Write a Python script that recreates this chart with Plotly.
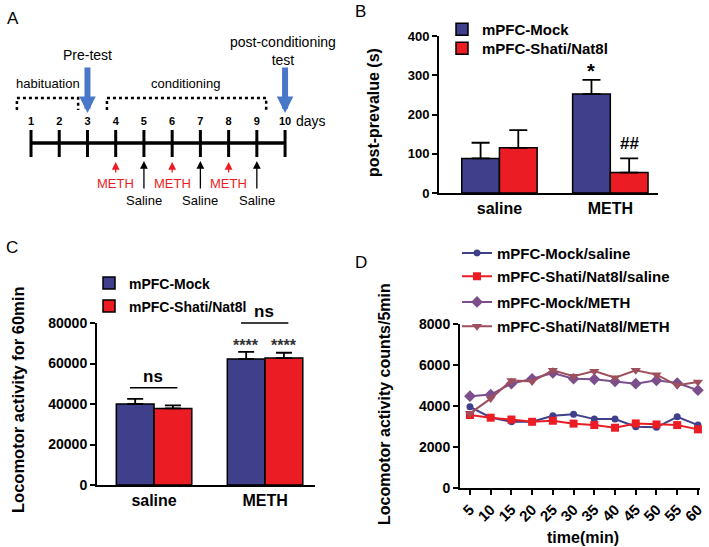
import plotly.graph_objects as go

W, H = 709, 547
FONT = "Liberation Sans, Arial, sans-serif"
BLUE = "#3f3f8c"
RED = "#ec1c24"
PURPLE = "#7c4f8c"
MAUVE = "#9e4f5e"
ARROW_BLUE = "#4a78c8"

# ---- data ----
groups = ["saline", "METH"]
b_mock = [88, 252]
b_mock_err = [40, 36]
b_shati = [115, 52]
b_shati_err = [45, 36]

c_mock = [40000, 62200]
c_mock_err = [2500, 3500]
c_shati = [37800, 62700]
c_shati_err = [1500, 2600]

time_min = [5, 10, 15, 20, 25, 30, 35, 40, 45, 50, 55, 60]
mock_saline = [3960, 3440, 3230, 3230, 3520, 3600, 3360, 3360, 2990, 2960, 3470, 3070]
shati_saline = [3560, 3430, 3340, 3230, 3280, 3140, 3070, 2940, 3150, 3100, 3070, 2860]
mock_meth = [4480, 4560, 5090, 5330, 5610, 5330, 5300, 5200, 5090, 5250, 5120, 4770]
shati_meth = [3640, 4360, 5250, 5200, 5740, 5450, 5700, 5380, 5740, 5530, 5010, 5170]

days = list(range(1, 11))
meth_days = [4, 6, 8]
saline_days = [5, 7, 9]

BARGAP = 0.32
OFF = (1 - BARGAP) / 4  # centre offset of each bar inside its group


def px_x(p):
    return p / W


def px_y(p):
    return 1 - p / H


fig = go.Figure()

# ---------------- panel B ----------------
for name, vals, err, col, leg in [("mPFC-Mock", b_mock, b_mock_err, BLUE, "legend"),
                                  ("mPFC-Shati/Nat8l", b_shati, b_shati_err, RED, "legend2")]:
    fig.add_trace(go.Bar(
        x=groups, y=vals, name=name, xaxis="x", yaxis="y",
        marker=dict(color=col, line=dict(color="black", width=1.5)),
        error_y=dict(type="data", symmetric=False, array=err, arrayminus=[0, 0],
                     color="black", thickness=1.8, width=9),
        legend=leg, showlegend=True))

# ---------------- panel C ----------------
for name, vals, err, col, leg in [("mPFC-Mock", c_mock, c_mock_err, BLUE, "legend3"),
                                  ("mPFC-Shati/Nat8l", c_shati, c_shati_err, RED, "legend4")]:
    fig.add_trace(go.Bar(
        x=groups, y=vals, name=name, xaxis="x2", yaxis="y2",
        marker=dict(color=col, line=dict(color="black", width=1.5)),
        error_y=dict(type="data", symmetric=False, array=err, arrayminus=[0, 0],
                     color="black", thickness=1.8, width=8),
        legend=leg, showlegend=True))

# ---------------- panel D ----------------
d_series = [
    ("mPFC-Mock/saline", mock_saline, BLUE, "circle", 7, "legend5"),
    ("mPFC-Shati/Nat8l/saline", shati_saline, RED, "square", 8, "legend6"),
    ("mPFC-Mock/METH", mock_meth, PURPLE, "diamond", 9, "legend7"),
    ("mPFC-Shati/Nat8l/METH", shati_meth, MAUVE, "triangle-down", 9, "legend8"),
]
for name, vals, col, sym, sz, leg in d_series:
    fig.add_trace(go.Scatter(
        x=time_min, y=vals, name=name, mode="lines+markers", xaxis="x4", yaxis="y4",
        line=dict(color=col, width=2), marker=dict(color=col, symbol=sym, size=sz),
        cliponaxis=False, legend=leg, showlegend=True))

# ---------------- panel A (schematic timeline) ----------------
fig.add_trace(go.Scatter(
    x=[days[0], days[-1]], y=[143, 143], mode="lines", xaxis="x3", yaxis="y3",
    line=dict(color="black", width=3.5), showlegend=False, hoverinfo="skip"))
tx, ty = [], []
for d in days:
    tx += [d, d, None]
    ty += [130, 157, None]
fig.add_trace(go.Scatter(
    x=tx, y=ty, mode="lines", xaxis="x3", yaxis="y3",
    line=dict(color="black", width=3), showlegend=False, hoverinfo="skip"))
fig.add_trace(go.Scatter(
    x=days, y=[122] * len(days), mode="text", text=[str(d) for d in days],
    textfont=dict(family=FONT, size=11, color="black", weight="bold"),
    xaxis="x3", yaxis="y3", showlegend=False, hoverinfo="skip"))
# dotted brackets
for x0, x1 in [(0.5, 2.67), (3.69, 9.33)]:
    fig.add_trace(go.Scatter(
        x=[x0, x0, x1, x1], y=[110, 98, 98, 110], mode="lines", xaxis="x3", yaxis="y3",
        line=dict(color="black", width=2.5, dash="dot"), showlegend=False, hoverinfo="skip"))

ann = []


def a_text(x, y, text, size=13, color="black", **kw):
    ann.append(dict(x=x, y=y, xref="x3", yref="y3", text=text, showarrow=False,
                    font=dict(family=FONT, size=size, color=color), **kw))


a_text(1.6, 83, "habituation")
a_text(6.46, 83, "conditioning")
a_text(3, 55, "Pre-test", size=14)
a_text(9.93, 50.5, "post-conditioning<br>test", size=14)
a_text(10.3, 121, "days", size=14, xanchor="left")
for d in meth_days:
    a_text(d, 183, "METH", color=RED)
    ann.append(dict(x=d, y=162, ax=d, ay=174, xref="x3", yref="y3", axref="x3", ayref="y3",
                    text="", showarrow=True, arrowhead=2, arrowsize=1.2, arrowwidth=1.3,
                    arrowcolor=RED))
for d in saline_days:
    a_text(d, 200, "Saline")
    ann.append(dict(x=d, y=161, ax=d, ay=190, xref="x3", yref="y3", axref="x3", ayref="y3",
                    text="", showarrow=True, arrowhead=2, arrowsize=1.2, arrowwidth=1.3,
                    arrowcolor="black"))
for d in [3, 10]:
    ann.append(dict(x=d, y=113, ax=d, ay=66, xref="x3", yref="y3", axref="x3", ayref="y3",
                    text="", showarrow=True, arrowhead=2, arrowsize=0.55, arrowwidth=6,
                    arrowcolor=ARROW_BLUE))

# ---------------- significance marks ----------------
ann.append(dict(x=1 - OFF, y=311, xref="x", yref="y", text="*", showarrow=False,
                yanchor="middle", font=dict(family=FONT, size=20, color="black", weight="bold")))
ann.append(dict(x=1 + OFF, y=98, xref="x", yref="y", text="##", showarrow=False,
                yanchor="bottom", font=dict(family=FONT, size=17, color="black", weight="bold")))
for g, yline in [(0, 48000), (1, 80000)]:
    ann.append(dict(x=g + 0.21, y=yline, ax=g - 0.23, ay=yline, xref="x2", yref="y2",
                    axref="x2", ayref="y2", text="", showarrow=True, arrowhead=0,
                    arrowwidth=1.6, arrowcolor="black"))
    ann.append(dict(x=g - 0.01, y=yline, xref="x2", yref="y2", text="ns", showarrow=False,
                    yanchor="bottom", font=dict(family=FONT, size=17, color="black", weight="bold")))
for dx in [-OFF, OFF]:
    ann.append(dict(x=1 + dx, y=69000, xref="x2", yref="y2", text="****", showarrow=False,
                    font=dict(family=FONT, size=16, color="#333333", weight="bold")))


def p_text(x, y, text, size, angle=0, bold=True):
    ann.append(dict(x=px_x(x), y=px_y(y), xref="paper", yref="paper", text=text,
                    textangle=angle, showarrow=False, xanchor="center", yanchor="middle",
                    font=dict(family=FONT, size=size, color="black",
                              weight="bold" if bold else "normal")))


p_text(373, 112, "post-prevalue (s)", 16, -90)
p_text(18, 400, "Locomotor activity for 60min", 16.5, -90)
p_text(384, 404, "Locomotor activity counts/5min", 16, -90)
p_text(583, 537, "time(min)", 16)
for letter, lx, ly in [("A", 13, 18), ("B", 360, 12), ("C", 12, 247), ("D", 361, 263)]:
    p_text(lx, ly, letter, 17, bold=False)

axis_common = dict(showline=True, linecolor="black", linewidth=2, showgrid=False,
                   zeroline=False, ticks="outside", ticklen=5, tickwidth=2, tickcolor="black")


def leg(text_left, centre_y, size):
    # one legend per entry so each row sits where the reference puts it
    return dict(x=px_x(text_left - 41), y=px_y(centre_y - 16), xanchor="left", yanchor="top",
                bgcolor="rgba(0,0,0,0)",
                font=dict(family=FONT, size=size, color="black", weight="bold"))


fig.update_layout(
    width=W, height=H,
    margin=dict(l=0, r=0, t=0, b=0, autoexpand=False),
    paper_bgcolor="white", plot_bgcolor="white",
    barmode="group", bargap=BARGAP, bargroupgap=0,
    font=dict(family=FONT, color="black"),
    annotations=ann,
    # panel B
    xaxis=dict(domain=[px_x(439), px_x(658)], range=[-0.545, 1.43], anchor="y",
               showline=True, linecolor="black", linewidth=2, ticks="", showgrid=False,
               tickfont=dict(family=FONT, size=16, color="black", weight="bold")),
    yaxis=dict(domain=[px_y(193), px_y(36)], range=[0, 400], anchor="x",
               tickvals=[0, 100, 200, 300, 400],
               tickfont=dict(family=FONT, size=13, color="black", weight="bold"), **axis_common),
    # panel C
    xaxis2=dict(domain=[px_x(97), px_x(315)], range=[-0.514, 1.45], anchor="y2",
                showline=True, linecolor="black", linewidth=2, ticks="", showgrid=False,
                tickfont=dict(family=FONT, size=16, color="black", weight="bold")),
    yaxis2=dict(domain=[px_y(485), px_y(323)], range=[0, 80000], anchor="x2",
                tickvals=[0, 20000, 40000, 60000, 80000], tickformat="d",
                tickfont=dict(family=FONT, size=14, color="black", weight="bold"), **axis_common),
    # panel A (hidden axes)
    xaxis3=dict(domain=[0, px_x(350)], range=[-0.0986, 12.30], visible=False, anchor="y3"),
    yaxis3=dict(domain=[px_y(240), 1], range=[240, 0], visible=False, anchor="x3"),
    # panel D
    xaxis4=dict(domain=[px_x(460), px_x(700)], range=[2.6, 60.5], anchor="y4",
                tickvals=time_min, tickangle=-45,
                tickfont=dict(family=FONT, size=15, color="black", weight="bold"), **axis_common),
    yaxis4=dict(domain=[px_y(488), px_y(324)], range=[0, 8000], anchor="x4",
                tickvals=[0, 2000, 4000, 6000, 8000], tickformat="d",
                tickfont=dict(family=FONT, size=14, color="black", weight="bold"), **axis_common),
    legend=leg(483, 29, 15),
    legend2=leg(483, 48, 15),
    legend3=leg(130, 283.5, 14),
    legend4=leg(130, 306.5, 14),
    legend5=leg(498, 252.7, 15),
    legend6=leg(498, 276, 15),
    legend7=leg(498, 301.7, 15),
    legend8=leg(498, 326, 15),
)

fig.write_html(
    "out.html", config={"displayModeBar": False},
    post_script=("document.documentElement.style.overflow='hidden';"
                 "document.body.style.margin='0px';"
                 "document.body.style.overflow='hidden';"))
